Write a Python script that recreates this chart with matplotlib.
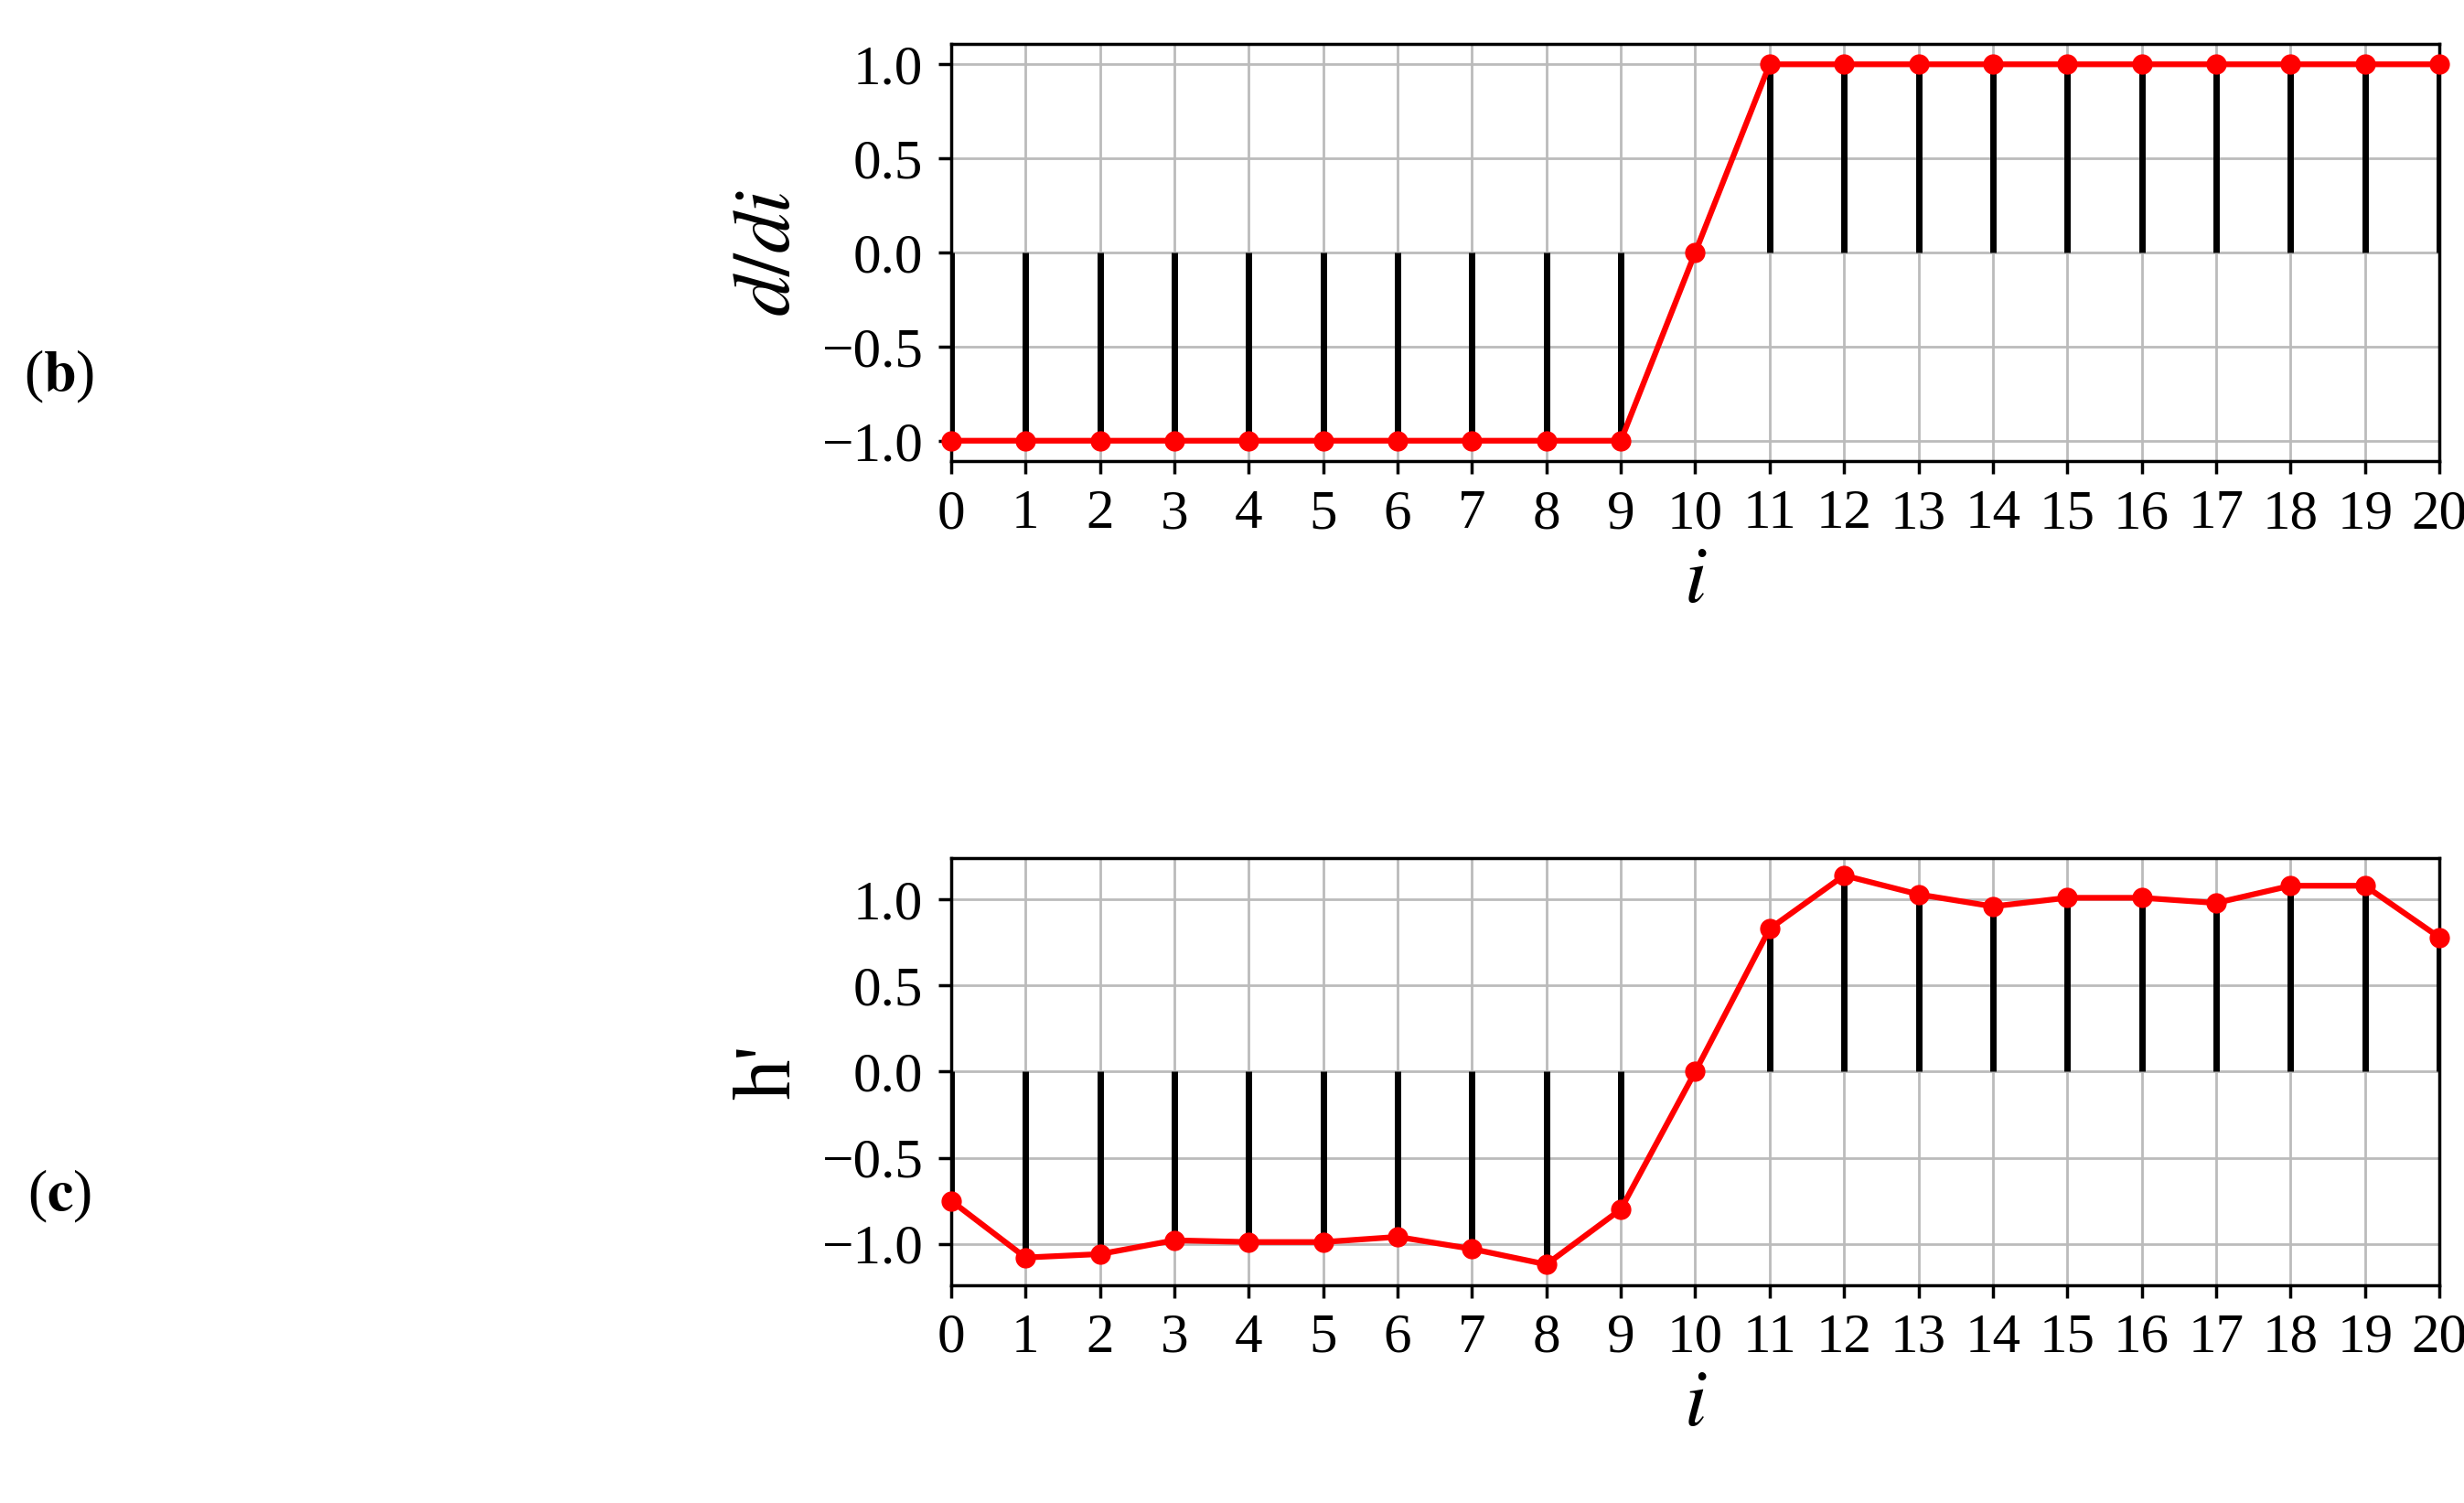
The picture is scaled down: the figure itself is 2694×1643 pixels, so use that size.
import matplotlib
matplotlib.use("Agg")
import matplotlib.pyplot as plt
import numpy as np

plt.rcParams['font.family'] = ['Liberation Serif', 'DejaVu Serif']
plt.rcParams['mathtext.fontset'] = 'stix'

i_vals = list(range(21))
deriv = [-1]*10 + [0] + [1]*10
hprime = [-0.75, -1.08, -1.06, -0.98, -0.99, -0.99, -0.96, -1.03, -1.12, -0.80,
          0.0, 0.83, 1.14, 1.03, 0.96, 1.01, 1.01, 0.98, 1.08, 1.08, 0.78]
yticks = [-1.0, -0.5, 0.0, 0.5, 1.0]
ytick_labels = ['\u22121.0', '\u22120.5', '0.0', '0.5', '1.0']

fig = plt.figure(figsize=(26.94, 16.43), dpi=100)
ax1 = fig.add_axes([0.386, 0.693, 0.604, 0.278])
ax2 = fig.add_axes([0.386, 0.145, 0.604, 0.284])

def draw(ax, vals, ylim, ylabel):
    ax.grid(True, color='#bbbbbb', lw=2, zorder=0)
    ax.vlines(i_vals, 0, vals, colors='black', lw=5, zorder=2)
    ax.plot(i_vals, vals, color='red', lw=4.5, marker='o', ms=15, zorder=3, clip_on=False)
    ax.set_xlim(0, 20)
    ax.set_ylim(*ylim)
    ax.set_xticks(i_vals)
    ax.set_yticks(yticks)
    ax.set_yticklabels(ytick_labels)
    ax.tick_params(labelsize=44, width=2.5, length=10, pad=12)
    for s in ax.spines.values():
        s.set_linewidth(2.5)
    ax.set_xlabel(r'$i$', fontsize=64, labelpad=4)
    ax.set_ylabel(ylabel, fontsize=64, labelpad=12)

draw(ax1, deriv, (-1.11, 1.11), r'$d/di$')
draw(ax2, hprime, (-1.24, 1.24), "h'")

fig.text(0.024, 0.749, r'($\mathbf{b}$)', fontsize=46, ha='center', va='center')
fig.text(0.024, 0.204, r'($\mathbf{c}$)', fontsize=46, ha='center', va='center')

fig.savefig('out.png', dpi=100)
